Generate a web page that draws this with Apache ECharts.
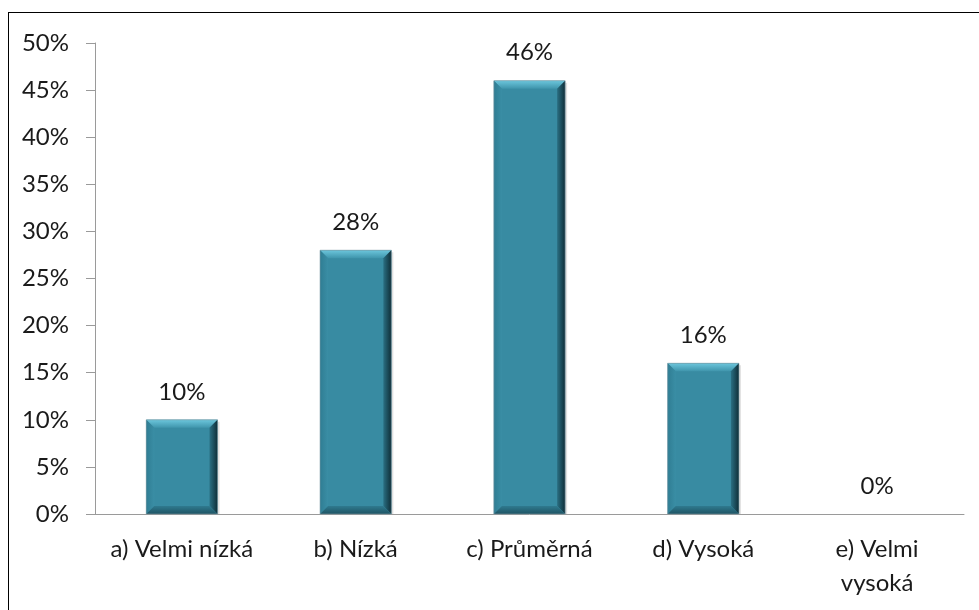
<!DOCTYPE html>
<html>
<head>
<meta charset="utf-8">
<script src="https://cdn.jsdelivr.net/npm/echarts@6/dist/echarts.min.js"></script>
<style>
    html, body { margin: 0; padding: 0; background: #fff; }
    #frame {
        position: absolute; left: 8px; top: 12px;
        width: 1000px; height: 640px;
        border: 1px solid #000;
    }
    #main { position: absolute; left: 0; top: 0; width: 979px; height: 610px; }
</style>
</head>
<body>
<div id="frame"></div>
<div id="main"></div>
<script>
const categories = ['a) Velmi nízká', 'b) Nízká', 'c) Průměrná', 'd) Vysoká', 'e) Velmi\nvysoká'];
const values = [10, 28, 46, 16, 0];

const myChart = echarts.init(document.getElementById('main'));

// bevelled bar, drawn through the axis scales
function renderBevelBar(params, api) {
    var v = api.value(1);
    if (!v) return null;
    var top = api.coord([api.value(0), v]);
    var base = api.coord([api.value(0), 0]);
    var w = api.size([1, 0])[0] * 0.41;
    var x = top[0] - w / 2, y = top[1], h = base[1] - top[1];
    var b = Math.min(8, h / 2);
    var lin = echarts.graphic.LinearGradient;
    return {
        type: 'group',
        children: [
            { type: 'rect', shape: { x: x + 2, y: y + 2, width: w, height: h - 2 },
              style: { fill: 'rgba(0,0,0,0.12)' } },
            { type: 'rect', shape: { x: x, y: y, width: w, height: h },
              style: { fill: '#388ba2' } },
            { type: 'polygon', shape: { points: [[x, y], [x + w, y], [x + w - b, y + b], [x + b, y + b]] },
              style: { fill: new lin(0, 0, 0, 1, [{ offset: 0, color: '#6cc6dc' }, { offset: 1, color: '#3f95ac' }]) } },
            { type: 'polygon', shape: { points: [[x, y], [x + b, y + b], [x + b, y + h - b], [x, y + h]] },
              style: { fill: new lin(0, 0, 1, 0, [{ offset: 0, color: '#2f7d93' }, { offset: 1, color: '#3a8ea5' }]) } },
            { type: 'polygon', shape: { points: [[x + w, y], [x + w, y + h], [x + w - b, y + h - b], [x + w - b, y + b]] },
              style: { fill: new lin(0, 0, 1, 0, [{ offset: 0, color: '#2a6f83' }, { offset: 1, color: '#0f2e38' }]) } },
            { type: 'polygon', shape: { points: [[x, y + h], [x + b, y + h - b], [x + w - b, y + h - b], [x + w, y + h]] },
              style: { fill: new lin(0, 0, 0, 1, [{ offset: 0, color: '#2f7a8f' }, { offset: 1, color: '#1f5464' }]) } },
            { type: 'rect', shape: { x: x, y: y, width: w, height: h },
              style: { fill: 'none', stroke: 'rgba(120,150,160,0.6)', lineWidth: 1 } }
        ]
    };
}

const option = {
    animation: false,
    textStyle: { fontFamily: 'Lato' },
    grid: { left: 95, right: 15, top: 43, bottom: 96 },
    xAxis: {
        type: 'category',
        data: categories,
        axisLine: { lineStyle: { color: '#9a9a9a' } },
        axisTick: { interval: 0, length: 8, lineStyle: { color: '#9a9a9a' } },
        axisLabel: { interval: 0, color: '#1a1a1a', fontSize: 24, margin: 18, lineHeight: 34 }
    },
    yAxis: {
        type: 'value',
        min: 0,
        max: 50,
        interval: 5,
        splitLine: { show: false },
        axisLine: { show: true, lineStyle: { color: '#9a9a9a' } },
        axisTick: { show: true, length: 9, lineStyle: { color: '#9a9a9a' } },
        axisLabel: { color: '#1a1a1a', fontSize: 24, margin: 26, formatter: '{value}%' }
    },
    series: [{
        type: 'bar',
        data: values,
        barWidth: '41%',
        itemStyle: { color: 'rgba(0,0,0,0)' },
        label: {
            show: true,
            position: 'top',
            distance: 16,
            color: '#1a1a1a',
            fontSize: 24,
            formatter: '{c}%'
        }
    }, {
        type: 'custom',
        renderItem: renderBevelBar,
        data: values.map(function (v, i) { return [i, v]; }),
        z: 3
    }]
};

myChart.setOption(option);
</script>
</body>
</html>
